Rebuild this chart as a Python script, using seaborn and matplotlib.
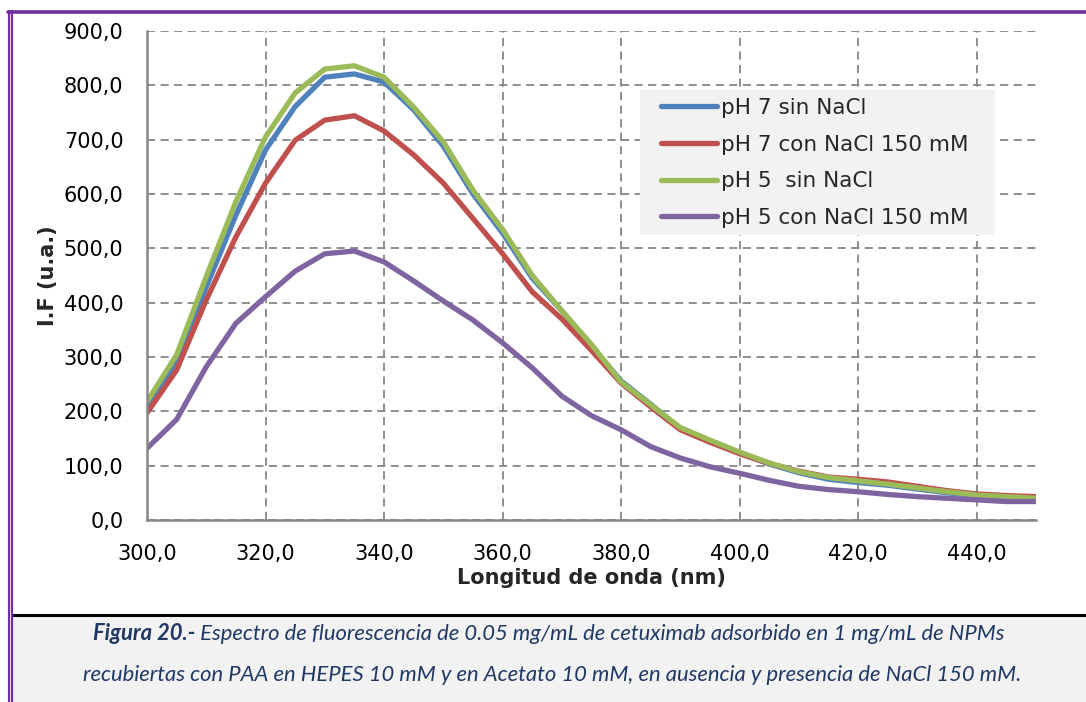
import pandas as pd
import numpy as np
import matplotlib
matplotlib.use("Agg")
import matplotlib.pyplot as plt
from matplotlib.lines import Line2D
from matplotlib.patches import Rectangle
from matplotlib.ticker import FuncFormatter, MultipleLocator
import seaborn as sns

# Wavelengths (nm) and fluorescence intensity (u.a.)
wavelength = [300, 305, 310, 315, 320, 325, 330, 335, 340, 345, 350,
              355, 360, 365, 370, 375, 380, 385, 390, 395, 400,
              405, 410, 415, 420, 425, 430, 435, 440, 445, 450]

ph7_sin = [207, 291, 429, 561, 681, 761, 815, 821, 806, 755, 688,
           600, 528, 445, 385, 320, 256, 213, 168, 145, 123,
           103, 87, 75, 69, 64, 57, 50, 45, 42, 40]
ph7_con = [197, 276, 405, 521, 620, 699, 736, 744, 716, 672, 620,
           555, 490, 420, 370, 312, 252, 208, 166, 143, 122,
           104, 90, 79, 75, 70, 62, 54, 48, 45, 43]
ph5_sin = [218, 304, 448, 586, 705, 786, 830, 836, 815, 760, 696,
           607, 535, 450, 385, 323, 254, 212, 170, 147, 125,
           105, 89, 78, 72, 66, 59, 52, 46, 43, 40]
ph5_con = [132, 185, 282, 362, 411, 458, 490, 495, 475, 440, 403,
           368, 326, 280, 228, 192, 166, 135, 114, 98, 86,
           73, 62, 56, 52, 47, 43, 40, 37, 34, 34]

series_names = ["pH 7 sin NaCl", "pH 7 con NaCl 150 mM",
                "pH 5  sin NaCl", "pH 5 con NaCl 150 mM"]
series_colors = ["#4F81BD", "#C0504D", "#9BBB59", "#8064A2"]

caption_bold = "Figura 20.-"
caption_line1 = " Espectro de fluorescencia de 0.05 mg/mL de cetuximab adsorbido en 1 mg/mL de NPMs"
caption_line2 = "recubiertas con PAA en HEPES 10 mM y en Acetato 10 mM, en ausencia y presencia de NaCl 150 mM."

# long-form table for seaborn
df = pd.DataFrame({
    "wl": wavelength * 4,
    "val": ph7_sin + ph7_con + ph5_sin + ph5_con,
    "serie": sum([[n] * len(wavelength) for n in series_names], []),
})

sns.set_style("white")
plt.rcParams["font.family"] = ["DejaVu Sans"]

W, H = 1086, 702
fig = plt.figure(figsize=(W / 100, H / 100), dpi=100)
ax = fig.add_axes([147 / W, 1 - 520 / H, 889 / W, 489 / H])

grey = "#868686"
ax.grid(True, color=grey, linestyle=(0, (4.5, 3)), linewidth=1.3)
ax.set_axisbelow(True)

sns.lineplot(data=df, x="wl", y="val", hue="serie", hue_order=series_names,
             palette=series_colors, linewidth=3.8, ax=ax, legend=False)
for ln in ax.lines:
    ln.set_solid_capstyle("round")
    ln.set_solid_joinstyle("round")

ax.set_xlim(300, 450)
ax.set_ylim(0, 900)
ax.xaxis.set_major_locator(MultipleLocator(20))
ax.yaxis.set_major_locator(MultipleLocator(100))
fmt = FuncFormatter(lambda v, p: f"{v:.1f}".replace(".", ","))
ax.xaxis.set_major_formatter(fmt)
ax.yaxis.set_major_formatter(fmt)
ax.tick_params(axis="both", labelsize=15, colors=grey, labelcolor="black",
               direction="out", length=7, width=1.3)
ax.tick_params(axis="x", pad=10)
ax.tick_params(axis="y", pad=10)

for s in ["top", "right"]:
    ax.spines[s].set_visible(False)
for s in ["left", "bottom"]:
    ax.spines[s].set_color(grey)
    ax.spines[s].set_linewidth(1.8)

ax.set_xlabel("Longitud de onda (nm)", fontsize=15, fontweight="bold", labelpad=3)
ax.set_ylabel("I.F (u.a.)", fontsize=15, fontweight="bold", labelpad=4)

# legend background box, then a frameless legend on top
ax.add_patch(Rectangle(((640 - 147) / 889, (520 - 235) / 489), 355 / 889, 145 / 489,
                       transform=ax.transAxes, facecolor="#F2F2F2",
                       edgecolor="none", zorder=4))
handles = [Line2D([], [], color=c, linewidth=3.8, solid_capstyle="round")
           for c in series_colors]
leg = ax.legend(handles, series_names, loc="upper left",
                bbox_to_anchor=((661 - 147) / 889, (520 - 98) / 489),
                fontsize=15.5, frameon=False, handlelength=2.6,
                handletextpad=0.2, labelspacing=0.77, borderpad=0,
                borderaxespad=0)
leg.set_zorder(5)

# caption box
fig.add_artist(Rectangle((12 / W, 0), 1, 1 - 616 / H, transform=fig.transFigure,
                         facecolor="#F2F2F2", edgecolor="none"))
fig.add_artist(Line2D([12 / W, 1], [1 - 615 / H] * 2, transform=fig.transFigure,
                      color="black", linewidth=2.2))

# purple frame
purple = "#7030A0"
fig.add_artist(Line2D([8 / W, 1], [1 - 11.5 / H] * 2, transform=fig.transFigure,
                      color=purple, linewidth=2.6))
for xp in (8.5, 11.5):
    fig.add_artist(Line2D([xp / W] * 2, [0, 1 - 11 / H], transform=fig.transFigure,
                          color=purple, linewidth=1.6))

navy = "#1F3864"
cap_font = dict(fontsize=15.8, style="italic", color=navy, family=["Lato", "DejaVu Sans"])
renderer = fig.canvas.get_renderer()
t_bold = fig.text(0, 1 - 634 / H, caption_bold, fontweight="bold", va="center", **cap_font)
t_rest = fig.text(0, 1 - 634 / H, caption_line1, va="center", **cap_font)
wb = t_bold.get_window_extent(renderer).width
wr = t_rest.get_window_extent(renderer).width
x0 = 549 - (wb + wr) / 2
t_bold.set_x(x0 / W)
t_rest.set_x((x0 + wb) / W)
fig.text(552 / W, 1 - 675 / H, caption_line2, ha="center", va="center", **cap_font)

fig.savefig("out.png", dpi=100, facecolor="white")
